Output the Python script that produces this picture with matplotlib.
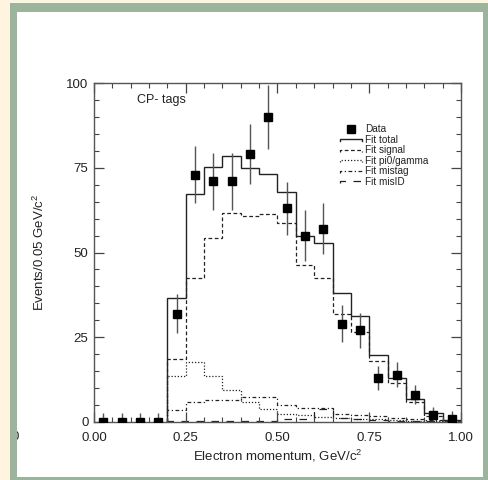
import matplotlib
matplotlib.use('Agg')
import matplotlib.pyplot as plt
from matplotlib.patches import Rectangle
from matplotlib.lines import Line2D
from matplotlib.legend_handler import HandlerLine2D
from matplotlib.ticker import MultipleLocator, FormatStrFormatter

plt.rcParams['font.family'] = ['Liberation Sans', 'DejaVu Sans']
plt.rcParams['mathtext.fontset'] = 'custom'
plt.rcParams['mathtext.rm'] = 'Liberation Sans'
plt.rcParams['mathtext.it'] = 'Liberation Sans:italic'

# histogram bin edges of the fit components (0.20 .. 1.00, 0.05 wide)
edges = [0.20, 0.25, 0.30, 0.35, 0.40, 0.45, 0.50, 0.55, 0.60,
         0.65, 0.70, 0.75, 0.80, 0.85, 0.90, 0.95, 1.00]
fit_total = [36.5, 67.3, 75.3, 78.4, 74.8, 73.2, 67.8, 54.8,
             52.7, 38.2, 31.4, 19.7, 13.0, 6.8, 2.7, 0.5]
fit_signal = [18.5, 42.5, 54.3, 61.7, 60.8, 61.5, 58.8, 46.2,
              42.5, 31.8, 26.6, 17.9, 11.5, 6.0, 1.8, 0.3]
fit_pi0gamma = [13.5, 17.8, 13.6, 9.5, 5.9, 3.9, 2.5, 2.0,
                1.5, 1.2, 1.0, 0.8, 0.6, 0.4, 0.3, 0.2]
fit_mistag = [3.4, 5.9, 6.6, 6.6, 7.3, 7.3, 5.0, 4.2,
              4.2, 2.3, 2.0, 1.8, 1.3, 0.8, 0.5, 0.2]
fit_misid = [0.3, 0.3, 0.3, 0.3, 0.3, 0.3, 0.8, 1.0,
             3.8, 1.2, 1.0, 0.6, 0.4, 0.3, 0.2, 0.1]

# data points
data_x = [0.025, 0.075, 0.125, 0.175, 0.225, 0.275, 0.325, 0.375, 0.425, 0.475,
          0.525, 0.575, 0.625, 0.675, 0.725, 0.775, 0.825, 0.875, 0.925, 0.975]
data_n = [0, 0, 0, 0, 32, 73, 71, 71, 79, 90, 63, 55, 57, 29, 27, 13, 14, 8, 2, 1]
err_lo = [0, 0, 0, 0, 5.7, 8.5, 8.4, 8.4, 8.9, 9.5, 7.9, 7.4, 7.5, 5.4, 5.2,
          3.6, 3.7, 2.8, 1.4, 1.0]
err_hi = [2.6, 2.6, 2.6, 2.6, 5.7, 8.5, 8.4, 8.4, 8.9, 9.5, 7.9, 7.4, 7.5, 5.4, 5.2,
          3.6, 3.7, 2.8, 2.5, 2.3]

W, H = 489, 480
fig = plt.figure(figsize=(W / 100, H / 100), dpi=100)
fig.patch.set_facecolor('#fef4df')

green = '#9db49c'
fig.add_artist(Rectangle((10 / W, 0), 479 / W, 477 / H, transform=fig.transFigure,
                         facecolor=green, edgecolor='none', zorder=-3))
fig.add_artist(Rectangle((17 / W, 3 / H), 466 / W, 465 / H, transform=fig.transFigure,
                         facecolor='white', edgecolor='none', zorder=-2))
# clipped label peeking out from the left border
fig.text(15.5 / W, 1 - 437 / H, '0', fontsize=9.5, ha='center', va='center',
         color='#222', zorder=-1.5)
fig.add_artist(Rectangle((10 / W, 0), 7 / W, 477 / H, transform=fig.transFigure,
                         facecolor=green, edgecolor='none', zorder=-1))

ax = fig.add_axes([94 / W, 1 - 422 / H, 367 / W, 339 / H])
ax.set_facecolor('white')

lc = '#222222'
ax.stairs(fit_total, edges, baseline=0, color=lc, lw=1.0, ls='-')
ax.stairs(fit_signal, edges, baseline=0, color=lc, lw=0.9, ls=(0, (3, 2)))
ax.stairs(fit_pi0gamma, edges, baseline=0, color=lc, lw=0.9, ls=(0, (1, 1.5)))
ax.stairs(fit_mistag, edges, baseline=0, color=lc, lw=0.9, ls=(0, (3, 2, 1, 2)))
ax.stairs(fit_misid, edges, baseline=0, color=lc, lw=0.9, ls=(0, (6, 6)))

ax.errorbar(data_x, data_n, yerr=[err_lo, err_hi], fmt='s', color='black',
            ecolor='#555555', elinewidth=1.0, capsize=0, markersize=6, zorder=5,
            clip_on=True)

ax.set_xlim(0, 1)
ax.set_ylim(0, 100)
ax.xaxis.set_major_locator(MultipleLocator(0.25))
ax.xaxis.set_minor_locator(MultipleLocator(0.05))
ax.yaxis.set_major_locator(MultipleLocator(25))
ax.yaxis.set_minor_locator(MultipleLocator(5))
ax.xaxis.set_major_formatter(FormatStrFormatter('%.2f'))
ax.tick_params(which='both', direction='in', top=True, right=True,
               color='#444444', labelsize=9.5, labelcolor='#222')
ax.tick_params(which='major', length=7, width=0.9)
ax.tick_params(which='minor', length=3.5, width=0.8)
ax.tick_params(axis='x', pad=7)
ax.tick_params(axis='y', pad=4)
for s in ax.spines.values():
    s.set_color('#555555')
    s.set_linewidth(1.0)

ax.set_xlabel(r'Electron momentum, GeV/c$^2$', fontsize=9.5, color='#222', labelpad=3)
ax.set_ylabel(r'Events/0.05 GeV/c$^2$', fontsize=9.5, color='#222', labelpad=14)

ax.text(0.117, 0.95, 'CP- tags', transform=ax.transAxes, fontsize=9,
        ha='left', va='center', color='#222')


class StepHandler(HandlerLine2D):
    def create_artists(self, legend, orig_handle, xdescent, ydescent,
                       width, height, fontsize, trans):
        x0, x1 = -xdescent, width - xdescent
        ytop = height * 0.55 - ydescent
        drop = height * 0.35
        line = Line2D([x0, x0, x1, x1], [ytop - drop, ytop, ytop, ytop - drop])
        self.update_prop(line, orig_handle, legend)
        line.set_transform(trans)
        return [line]


handles = [
    Line2D([], [], marker='s', ls='none', color='black', markersize=6),
    Line2D([], [], color=lc, lw=1.0, ls='-'),
    Line2D([], [], color=lc, lw=0.9, ls=(0, (3, 2))),
    Line2D([], [], color=lc, lw=0.9, ls=(0, (1, 1.5))),
    Line2D([], [], color=lc, lw=0.9, ls=(0, (3, 2, 1, 2))),
    Line2D([], [], color=lc, lw=0.9, ls=(0, (6, 6))),
]
labels = ['Data', 'Fit total', 'Fit signal', 'Fit pi0/gamma', 'Fit mistag', 'Fit misID']
step = StepHandler()
hmap = {h: step for h in handles[1:]}
leg = ax.legend(handles, labels, handler_map=hmap, loc='upper left',
                bbox_to_anchor=(0.67, 0.878), frameon=False, fontsize=7.2,
                handlelength=2.2, handletextpad=0.3, labelspacing=0.05,
                borderaxespad=0, borderpad=0, numpoints=1)
for t in leg.get_texts():
    t.set_color('#222')

fig.savefig('out.png', dpi=100)
